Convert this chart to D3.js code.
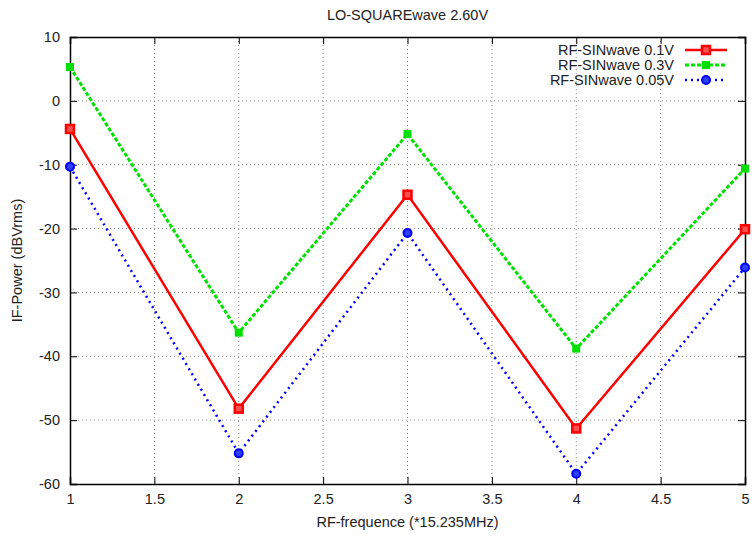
<!DOCTYPE html>
<html>
<head>
<meta charset="utf-8">
<script src="https://cdn.jsdelivr.net/npm/d3@7"></script>
<style>
body { margin: 0; background: #fff; }
text { font-family: "Liberation Sans", Arial, sans-serif; fill: #222; }
</style>
</head>
<body>
<div class="container"></div>
<script>
const freqs = [1, 2, 3, 4, 5]
const sin01 = [-4.4, -48.2, -14.7, -51.3, -20.1]
const sin03 = [5.3, -36.3, -5.2, -38.8, -10.6]
const sin005 = [-10.3, -55.2, -20.7, -58.4, -26.1]
const seriesNames = ["RF-SINwave 0.1V", "RF-SINwave 0.3V", "RF-SINwave 0.05V"]
const xTicks = [1, 1.5, 2, 2.5, 3, 3.5, 4, 4.5, 5]
const yTicks = [10, 0, -10, -20, -30, -40, -50, -60]

const W = 752, H = 537
const mLeft = 70, mRight = 745, mTop = 37, mBottom = 484
const fs = "14.5px"

const svg = d3.select(".container").append("svg")
              .attr("width", W).attr("height", H)

const x = d3.scaleLinear().domain([1, 5]).range([mLeft, mRight])
const y = d3.scaleLinear().domain([-60, 10]).range([mBottom, mTop])

// grid
svg.selectAll(".gx").data(xTicks.slice(1, -1)).enter().append("line")
   .attr("x1", d => x(d)).attr("x2", d => x(d))
   .attr("y1", mTop).attr("y2", mBottom)
   .attr("stroke", "#888").attr("stroke-width", 1).attr("stroke-dasharray", "1,3")
svg.selectAll(".gy").data(yTicks.slice(1, -1)).enter().append("line")
   .attr("x1", mLeft).attr("x2", mRight)
   .attr("y1", d => y(d)).attr("y2", d => y(d))
   .attr("stroke", "#888").attr("stroke-width", 1).attr("stroke-dasharray", "1,3")

// axes with mirrored inward ticks
svg.append("g").attr("transform", "translate(0," + mBottom + ")")
   .call(d3.axisBottom(x).tickValues(xTicks).tickSize(-7).tickPadding(10).tickFormat(d => String(d)))
svg.append("g").attr("transform", "translate(0," + mTop + ")")
   .call(d3.axisTop(x).tickValues(xTicks).tickSize(-7).tickFormat(""))
svg.append("g").attr("transform", "translate(" + mLeft + ",0)")
   .call(d3.axisLeft(y).tickValues(yTicks).tickSize(-7).tickPadding(10).tickFormat(d => String(d)))
svg.append("g").attr("transform", "translate(" + mRight + ",0)")
   .call(d3.axisRight(y).tickValues(yTicks).tickSize(-7).tickFormat(""))
svg.selectAll(".domain").attr("stroke", "#000").attr("stroke-width", 1.5)
svg.selectAll(".tick line").attr("stroke", "#000")
svg.selectAll(".tick text").style("font-size", fs).attr("fill", "#222")
   .style("font-family", "Liberation Sans, Arial, sans-serif")

// titles
svg.append("text").attr("x", (mLeft + mRight) / 2).attr("y", 20)
   .attr("text-anchor", "middle").style("font-size", fs).text("LO-SQUAREwave 2.60V")
svg.append("text").attr("x", (mLeft + mRight) / 2).attr("y", 527)
   .attr("text-anchor", "middle").style("font-size", fs).text("RF-frequence (*15.235MHz)")
svg.append("text").attr("transform", "translate(22," + (mTop + mBottom) / 2 + ") rotate(-90)")
   .attr("text-anchor", "middle").style("font-size", fs).text("IF-Power (dBVrms)")

const series = [
  { name: seriesNames[0], vals: sin01, color: "#ff0000", dash: null, width: 2.5, mark: "open" },
  { name: seriesNames[1], vals: sin03, color: "#00e000", dash: "4,2", width: 3, mark: "square" },
  { name: seriesNames[2], vals: sin005, color: "#0000ff", dash: "2,4", width: 2.5, mark: "circle" }
]

const line = d3.line().x((d, i) => x(freqs[i])).y(d => y(d))

function drawMark(g, mark, color, cx, cy) {
  if (mark == "open") {
    g.append("rect").attr("x", cx - 4).attr("y", cy - 4).attr("width", 8).attr("height", 8)
     .attr("fill", "#ff5050").attr("stroke", color).attr("stroke-width", 2.5)
  } else if (mark == "square") {
    g.append("rect").attr("x", cx - 4).attr("y", cy - 4).attr("width", 8).attr("height", 8)
     .attr("fill", color)
  } else {
    g.append("circle").attr("cx", cx).attr("cy", cy).attr("r", 4)
     .attr("fill", "#3040ff").attr("stroke", color).attr("stroke-width", 2)
  }
}

series.forEach((s, k) => {
  svg.append("path").datum(s.vals).attr("d", line)
     .attr("fill", "none").attr("stroke", s.color).attr("stroke-width", s.width)
     .attr("stroke-dasharray", s.dash)
  const g = svg.append("g")
  s.vals.forEach((v, i) => drawMark(g, s.mark, s.color, x(freqs[i]), y(v)))

  // legend
  const ly = 50 + k * 15
  svg.append("text").attr("x", 674).attr("y", ly + 5).attr("text-anchor", "end")
     .style("font-size", fs).text(s.name)
  svg.append("line").attr("x1", 685).attr("x2", 727).attr("y1", ly).attr("y2", ly)
     .attr("stroke", s.color).attr("stroke-width", s.width).attr("stroke-dasharray", s.dash)
  drawMark(svg.append("g"), s.mark, s.color, 706, ly)
})
</script>
</body>
</html>
